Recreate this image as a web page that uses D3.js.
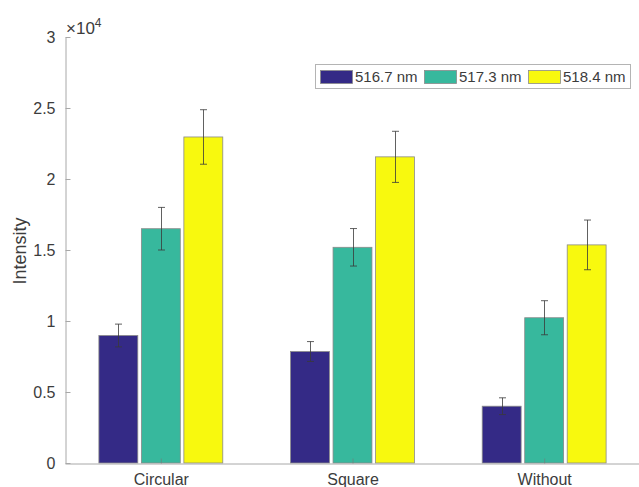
<!DOCTYPE html>
<html>
<head>
<meta charset="utf-8">
<script src="https://cdn.jsdelivr.net/npm/d3@7"></script>
<style>
  html, body { margin: 0; padding: 0; background: #fff; }
  svg { display: block; font-family: "Liberation Sans", Arial, sans-serif; }
</style>
</head>
<body>
<svg id="chart" width="639" height="487"></svg>
<script>
// Grouped intensity bars with error bars for three line wavelengths
const categories = ["Circular", "Square", "Without"];
const seriesNames = ["516.7 nm", "517.3 nm", "518.4 nm"];
const seriesColors = ["#342a86", "#37b89d", "#f8f90e"];
const values516 = [8980, 7850, 4000];
const values517 = [16500, 15190, 10230];
const values518 = [22960, 21560, 15360];
const errors516 = [800, 700, 590];
const errors517 = [1500, 1320, 1200];
const errors518 = [1920, 1800, 1750];
const yTicks = [0, 5000, 10000, 15000, 20000, 25000, 30000];
const yTickLabels = ["0", "0.5", "1", "1.5", "2", "2.5", "3"];

const series = [
  { name: seriesNames[0], color: seriesColors[0], values: values516, errors: errors516 },
  { name: seriesNames[1], color: seriesColors[1], values: values517, errors: errors517 },
  { name: seriesNames[2], color: seriesColors[2], values: values518, errors: errors518 }
];

const svg = d3.select("#chart");
const axisColor = "#a8a8a8";
const textColor = "#3c3c3c";

const x = d3.scaleLinear().domain([0.5, 3.5]).range([65, 640]);
const y = d3.scaleLinear().domain([0, 30000]).range([463, 37]);

const pitch = 0.2217;   // spacing between bars within a group (category units)
const barW = 0.203;     // bar width (category units)

// Bars
series.forEach((s, si) => {
  const off = (si - 1) * pitch;
  svg.append("g").selectAll("rect")
    .data(s.values)
    .join("rect")
    .attr("x", (d, i) => x(i + 1 + off - barW / 2))
    .attr("y", d => y(d))
    .attr("width", x(barW) - x(0))
    .attr("height", d => y(0) - y(d))
    .attr("fill", s.color)
    .attr("stroke", "#8a8a8a")
    .attr("stroke-width", 0.8);
});

// Error bars
series.forEach((s, si) => {
  const off = (si - 1) * pitch;
  const g = svg.append("g").attr("stroke", "#3a3a3a").attr("stroke-width", 1).attr("stroke-opacity", 0.8);
  s.values.forEach((v, i) => {
    const cx = Math.round(x(i + 1 + off)) + 0.5;
    const top = y(v + s.errors[i]);
    const bot = y(v - s.errors[i]);
    g.append("line").attr("x1", cx).attr("x2", cx).attr("y1", top).attr("y2", bot);
    g.append("line").attr("x1", cx - 3.5).attr("x2", cx + 3.5).attr("y1", top).attr("y2", top);
    g.append("line").attr("x1", cx - 3.5).attr("x2", cx + 3.5).attr("y1", bot).attr("y2", bot);
  });
});

// Y axis (ticks pointing inward)
const yAxis = d3.axisLeft(y)
  .tickValues(yTicks)
  .tickFormat((d, i) => yTickLabels[i])
  .tickSizeInner(-5)
  .tickSizeOuter(0)
  .tickPadding(10);
const gy = svg.append("g").attr("transform", "translate(65.5,0)").call(yAxis);
gy.select(".domain").attr("stroke", axisColor);
gy.selectAll(".tick line").attr("stroke", axisColor);
gy.selectAll(".tick text").attr("fill", textColor).attr("font-size", 16)
  .attr("font-family", "Liberation Sans, Arial, sans-serif");

// X axis (ticks pointing inward)
const xAxis = d3.axisBottom(x)
  .tickValues([1, 2, 3])
  .tickFormat((d) => categories[d - 1])
  .tickSizeInner(-5)
  .tickSizeOuter(0)
  .tickPadding(10);
const gx = svg.append("g").attr("transform", "translate(0,463.5)").call(xAxis);
gx.select(".domain").attr("stroke", axisColor);
gx.selectAll(".tick line").attr("stroke", "#7a7a7a").attr("stroke-opacity", 0.6);
gx.selectAll(".tick text").attr("fill", textColor).attr("font-size", 16)
  .attr("font-family", "Liberation Sans, Arial, sans-serif");

// Exponent label
const expo = svg.append("text").attr("x", 66).attr("y", 34)
  .attr("fill", textColor).attr("font-size", 17);
expo.append("tspan").text("\u00d710");
expo.append("tspan").attr("dy", -7).attr("font-size", 12).text("4");

// Y axis title
svg.append("text")
  .attr("transform", "translate(26,251) rotate(-90)")
  .attr("text-anchor", "middle")
  .attr("fill", textColor)
  .attr("font-size", 18)
  .text("Intensity");

// Legend
const lg = svg.append("g");
lg.append("rect").attr("x", 315.5).attr("y", 64.5).attr("width", 315).attr("height", 24)
  .attr("fill", "#fff").attr("stroke", "#b4b4b4");
const swX = [320, 424, 528];
series.forEach((s, i) => {
  lg.append("rect").attr("x", swX[i] + 0.5).attr("y", 70.5).attr("width", 32).attr("height", 13)
    .attr("fill", s.color).attr("stroke", "#8a8a8a").attr("stroke-width", 0.8);
  lg.append("text").attr("x", swX[i] + 35).attr("y", 82)
    .attr("fill", textColor).attr("font-size", 15).text(s.name);
});
</script>
</body>
</html>
